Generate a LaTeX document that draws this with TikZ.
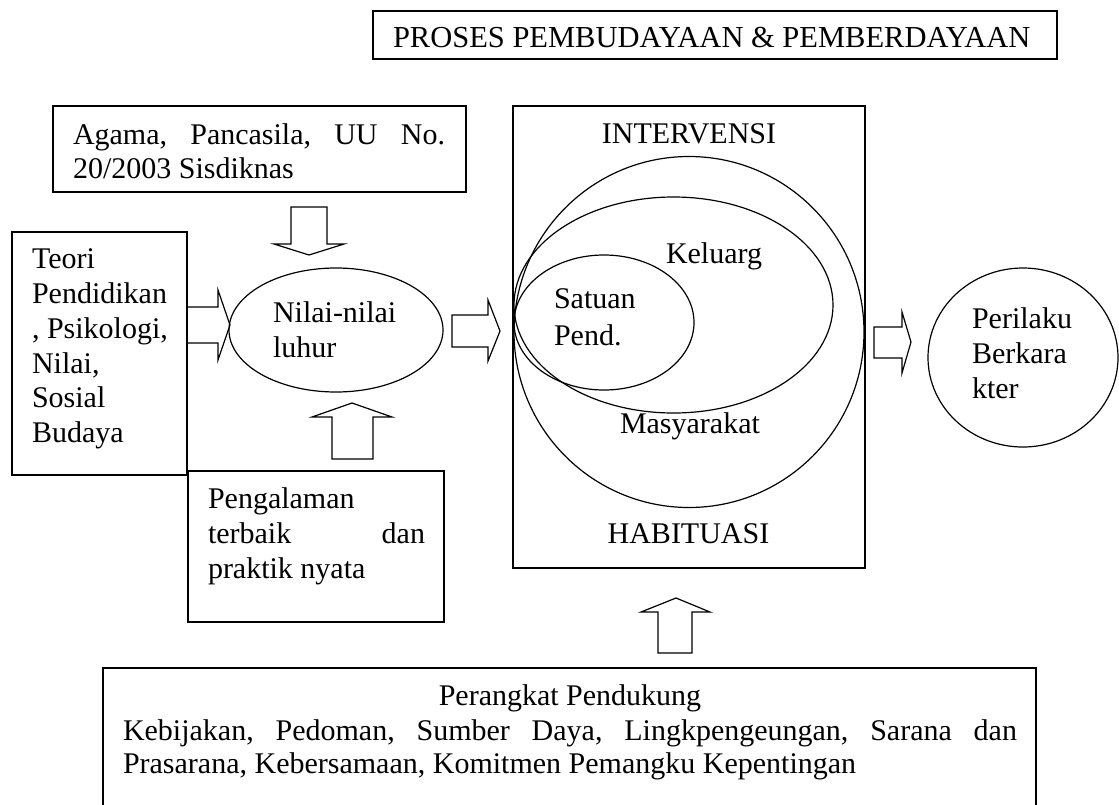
\documentclass[tikz,border=0pt]{standalone}
\usepackage{fontspec}
\setmainfont{Liberation Serif}
\usetikzlibrary{shapes.geometric}
\begin{document}
\begin{tikzpicture}[x=1pt,y=-1pt,
  every node/.style={font=\fontsize{30}{35}\selectfont, inner sep=0pt, outer sep=0pt},
  frame/.style={draw, line width=1.3pt, rectangle, anchor=north west},
  oval/.style={draw, line width=1.2pt, ellipse},
  barrow/.style={draw, line width=1.2pt, line join=miter},
  txt/.style={anchor=base west},
  ctxt/.style={anchor=base}]
\useasboundingbox (0,0) rectangle (1119,804);
\clip (0,0) rectangle (1119,804);

% title
\node[frame, minimum width=684, minimum height=48] (title) at (373,11) {};
\node[txt, font=\fontsize{30.5}{35}\selectfont] (titletxt) at (393,47) {PROSES PEMBUDAYAAN \& PEMBERDAYAAN};

% Agama box
\node[frame, minimum width=413, minimum height=86] (agama) at (53,106) {};
\node[txt] (agama1) at (73,144) {\hbox to 372pt{Agama,\hfill Pancasila,\hfill UU\hfill No.}};
\node[txt] (agama2) at (73,178) {20/2003 Sisdiknas};

% Teori box
\node[frame, minimum width=175, minimum height=243] (teori) at (12,232) {};
\node[txt] (teori1) at (32,268) {Teori};
\node[txt] (teori2) at (32,303) {Pendidikan};
\node[txt] (teori3) at (32,338) {, Psikologi,};
\node[txt] (teori4) at (32,373) {Nilai,};
\node[txt] (teori5) at (32,407) {Sosial};
\node[txt] (teori6) at (32,442) {Budaya};

% Nilai ellipse
\node[oval, minimum width=214, minimum height=124] (nilai) at (336,330) {};
\node[txt] (nilai1) at (273,322) {Nilai-nilai};
\node[txt] (nilai2) at (273,357) {luhur};

% Pengalaman box
\node[frame, minimum width=256, minimum height=151] (peng) at (188,471) {};
\node[txt] (peng1) at (208,508) {Pengalaman};
\node[txt] (peng2) at (208,543) {\hbox to 217pt{terbaik\hfill dan}};
\node[txt] (peng3) at (208,578) {praktik nyata};

% Intervensi box
\node[frame, minimum width=352, minimum height=462] (interv) at (513,106) {};
\node[ctxt] (intervtxt) at (689,143) {INTERVENSI};
\node[ctxt] (habtxt) at (688.5,543) {HABITUASI};
\node[oval, minimum width=350, minimum height=351] (masy) at (689,332) {};
\node[oval, minimum width=319, minimum height=216] (kel) at (673.5,305) {};
\node[oval, minimum width=180, minimum height=135] (sat) at (604,322.5) {};
\node[txt] (sat1) at (554,308) {Satuan};
\node[txt] (sat2) at (554,345) {Pend.};
\node[txt] (keltxt) at (666,263) {Keluarg};
\node[txt] (masytxt) at (620,433) {Masyarakat};

% Perilaku
\node[oval, minimum width=190, minimum height=179] (peri) at (1023,357.5) {};
\node[txt] (peri1) at (972,328) {Perilaku};
\node[txt] (peri2) at (972,363) {Berkara};
\node[txt] (peri3) at (972,398) {kter};

% bottom box
\node[frame, minimum width=933, minimum height=200] (perangkat) at (103,668) {};
\node[ctxt] (per1) at (570,705) {Perangkat Pendukung};
\node[txt] (per2) at (123,740) {\hbox to 894pt{Kebijakan,\hfill Pedoman,\hfill Sumber\hfill Daya,\hfill Lingkpengeungan,\hfill Sarana\hfill dan}};
\node[txt] (per3) at (123,773) {Prasarana, Kebersamaan, Komitmen Pemangku Kepentingan};

% block arrows
\draw[barrow] (291,207) -- (327,207) -- (327,244) -- (344,244) -- (309,255) -- (274,244) -- (291,244) -- cycle;
\draw[barrow] (187,307) -- (218,307) -- (218,290) -- (230,325) -- (218,360) -- (218,343) -- (187,343) -- cycle;
\draw[barrow] (332,459) -- (332,417) -- (312,417) -- (352,403) -- (392,417) -- (373,417) -- (373,459) -- cycle;
\draw[barrow] (452,315) -- (488,315) -- (488,300) -- (500,331) -- (488,361) -- (488,347) -- (452,347) -- cycle;
\draw[barrow] (874,327) -- (902,327) -- (902,312) -- (911,342) -- (902,373) -- (902,358) -- (874,358) -- cycle;
\draw[barrow] (658,653) -- (658,612) -- (641,612) -- (676,598) -- (710,612) -- (692,612) -- (692,653) -- cycle;
\end{tikzpicture}
\end{document}
